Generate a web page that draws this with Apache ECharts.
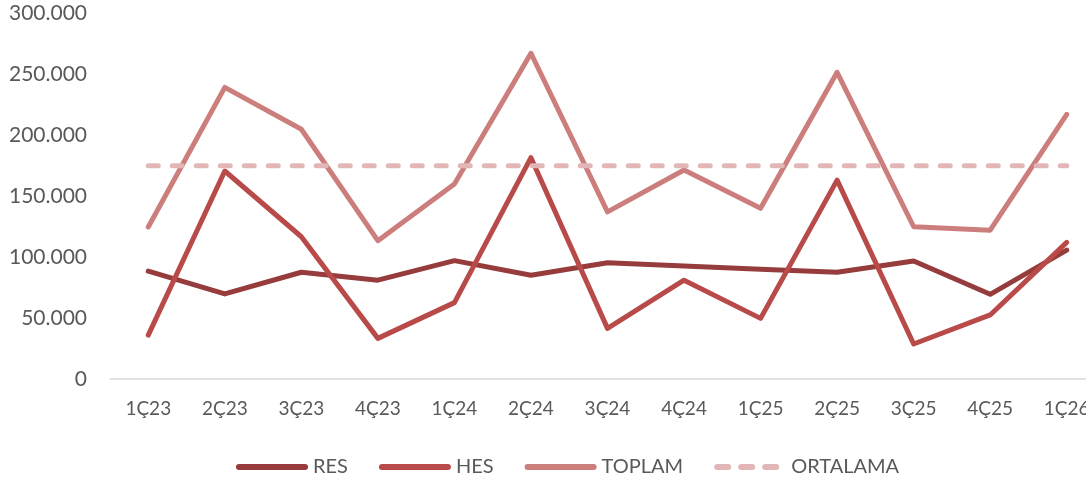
<!DOCTYPE html>
<html>
<head>
<meta charset="utf-8">
<script src="https://cdn.jsdelivr.net/npm/echarts@6/dist/echarts.min.js"></script>
<style>
html,body{margin:0;padding:0;background:#fff;}
#chart{width:1086px;height:480px;}
</style>
</head>
<body>
<div id="chart"></div>
<script>
const categories = ['1Ç23','2Ç23','3Ç23','4Ç23','1Ç24','2Ç24','3Ç24','4Ç24','1Ç25','2Ç25','3Ç25','4Ç25','1Ç26'];
const res      = [88400, 69700, 87500, 81000, 97000, 85000, 95300, 92600, 89900, 87500, 96700, 69400, 105700];
const hes      = [36000, 170500, 116600, 33300, 62600, 181400, 41500, 81000, 49700, 163000, 28700, 52500, 112000];
const toplam   = [124600, 239000, 204700, 113400, 159800, 267000, 137000, 171300, 139900, 251400, 124800, 122000, 217000];
const ortalama = [174800, 174800, 174800, 174800, 174800, 174800, 174800, 174800, 174800, 174800, 174800, 174800, 174800];
const yTicks = [0, 50000, 100000, 150000, 200000, 250000, 300000];

const FONT = 'Lato';
const TXT = '#595959';

function fmt(v){
  if (v === 0) return '0';
  return (v/1000).toFixed(0) + '.000';
}

const solidIcon = 'path://M3,0h66a3,3 0 0 1 0,6h-66a3,3 0 0 1 0,-6z';
const dashIcon = 'path://M3,0h11a3,3 0 0 1 0,6h-11a3,3 0 0 1 0,-6z' +
  'M27,0h11a3,3 0 0 1 0,6h-11a3,3 0 0 1 0,-6z' +
  'M51,0h11a3,3 0 0 1 0,6h-11a3,3 0 0 1 0,-6z' +
  'M72,0M72,6M0,6';

const chart = echarts.init(document.getElementById('chart'), null, {renderer:'canvas'});
function lineSeries(name, data, color, dashed){
  return {
    name, type:'line', data, symbol:'none', smooth:false, animation:false,
    lineStyle:{color, width:5, cap:'round', join:'round', type: dashed ? [10,14] : 'solid'},
    itemStyle:{color},
    emphasis:{disabled:true}
  };
}
chart.setOption({
  animation:false,
  grid:{left:110, right:-19, top:13, bottom:101, containLabel:false, outerBoundsMode:'none'},
  xAxis:{
    type:'category', data:categories, boundaryGap:true,
    axisLine:{show:true, lineStyle:{color:'#D9D9D9', width:1.5}},
    axisTick:{show:false},
    axisLabel:{color:TXT, fontFamily:FONT, fontSize:19, margin:20, interval:0}
  },
  yAxis:{
    type:'value', min:yTicks[0], max:yTicks[yTicks.length-1], interval:50000,
    axisLine:{show:false}, axisTick:{show:false},
    splitLine:{show:false},
    axisLabel:{color:TXT, fontFamily:FONT, fontSize:21, margin:23, formatter:fmt}
  },
  legend:{
    left:231, top:452, itemWidth:72, itemHeight:6, itemGap:31,
    symbolKeepAspect:false,
    itemStyle:{borderWidth:0},
    textStyle:{color:TXT, fontFamily:FONT, fontSize:20},
    data:[
      {name:'RES', icon:solidIcon},
      {name:'HES', icon:solidIcon},
      {name:'TOPLAM', icon:solidIcon},
      {name:'ORTALAMA', icon:dashIcon}
    ]
  },
  series:[
    lineSeries('RES', res, '#963C3C', false),
    lineSeries('HES', hes, '#B84B49', false),
    lineSeries('TOPLAM', toplam, '#CC7E7C', false),
    lineSeries('ORTALAMA', ortalama, '#E2B6B6', true)
  ]
});
</script>
</body>
</html>
